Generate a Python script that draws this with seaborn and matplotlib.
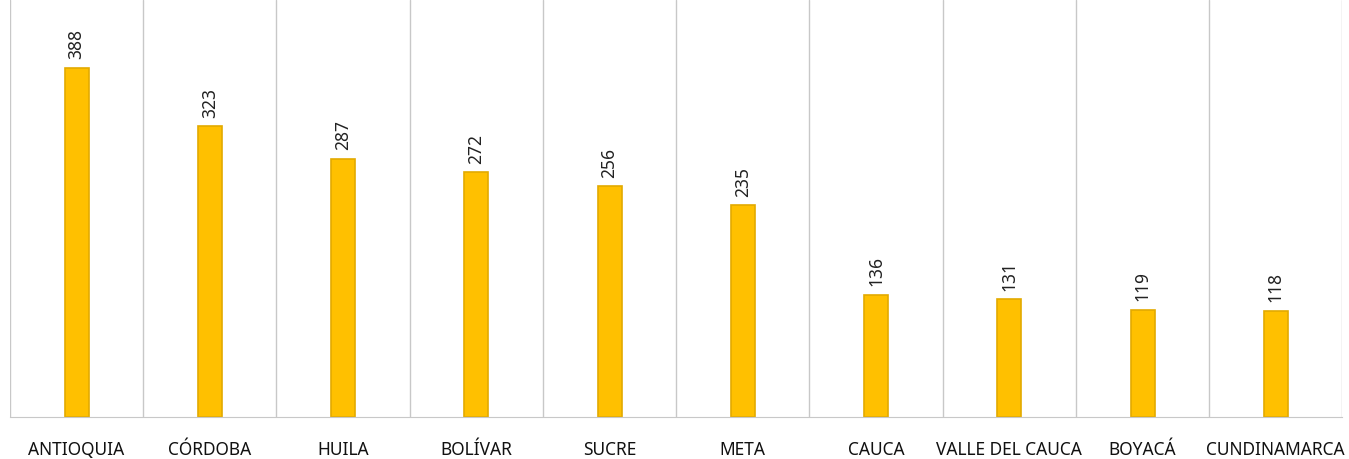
import matplotlib
matplotlib.use("Agg")
import matplotlib.pyplot as plt
import seaborn as sns
import pandas as pd
import numpy as np

# datos por departamento
departamentos = ["ANTIOQUIA", "CÓRDOBA", "HUILA", "BOLÍVAR", "SUCRE", "META",
                 "CAUCA", "VALLE DEL CAUCA", "BOYACÁ", "CUNDINAMARCA"]
casos = [388, 323, 287, 272, 256, 235, 136, 131, 119, 118]

df = pd.DataFrame({"departamento": departamentos, "casos": casos})

sns.set_style("white")
plt.rcParams["font.family"] = ["Noto Sans", "DejaVu Sans"]

fig = plt.figure(figsize=(13.49, 4.59), dpi=100)
ax = fig.add_axes([0.0074, 0.0915, 0.9877, 0.9085])

sns.barplot(data=df, x="departamento", y="casos", color="#FFC000",
            width=0.18, edgecolor="#E3AA00", linewidth=1.2, saturation=1, ax=ax)

ax.set_ylim(0, 463)
ax.set_xlim(-0.5, len(departamentos) - 0.5)

# lineas verticales entre categorias
for b in np.arange(-0.5, len(departamentos), 1.0):
    ax.axvline(b, color="#C8C8C8", lw=1.0, zorder=0)

for i, v in enumerate(casos):
    ax.annotate(str(v), (i, v), xytext=(0, 6), textcoords="offset points",
                rotation=90, ha="center", va="bottom", fontsize=12.5, color="#222222")

ax.set_xlabel("")
ax.set_ylabel("")
ax.set_yticks([])
ax.tick_params(axis="x", length=0, pad=17, labelsize=12.5, colors="#111111")
for s in ["top", "right", "left"]:
    ax.spines[s].set_visible(False)
ax.spines["bottom"].set_color("#C8C8C8")

fig.savefig("out.png", dpi=100)
